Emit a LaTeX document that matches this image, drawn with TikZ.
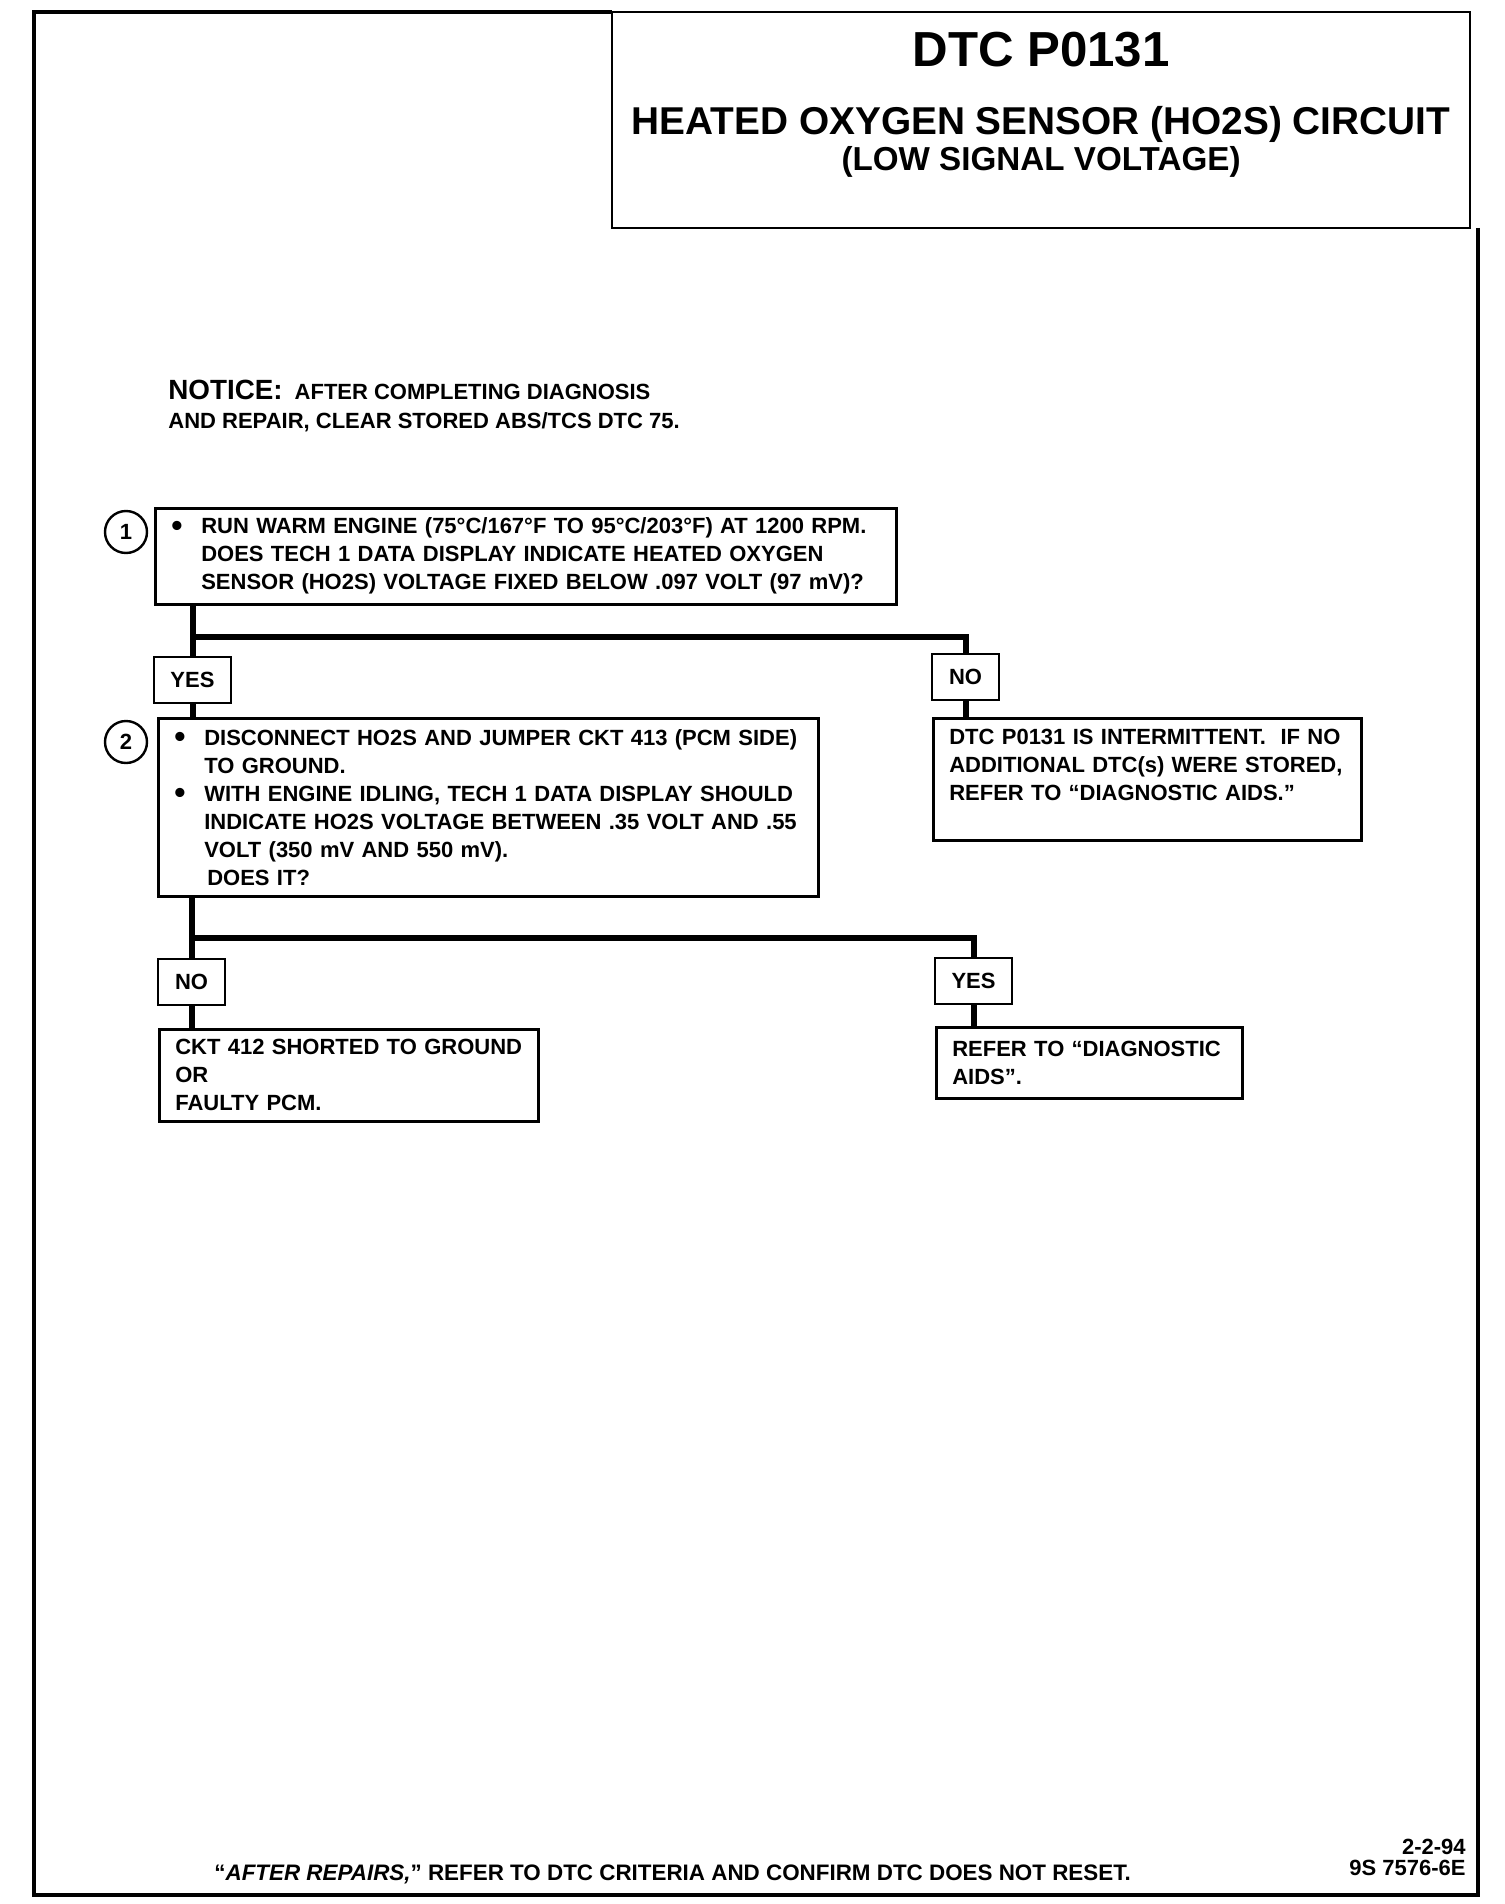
\documentclass[tikz,border=0pt]{standalone}
\usepackage{fontspec}
\setmainfont{Liberation Sans}

\newcommand{\itembul}{\makebox[15pt][l]{\raisebox{-1.4pt}{\fontsize{16}{16}\selectfont\textbullet}}}
\newcommand{\itemgap}{\hspace*{15pt}}

\begin{document}
\begin{tikzpicture}[
	x=0.5pt, y=-0.5pt,
	box style/.style={
		draw,
		line width=1.3pt,
		anchor=north west,
		align=left,
		inner xsep=8pt,
		inner ysep=0pt,
		font=\fontsize{11}{14}\selectfont\bfseries,
		fill=white
	},
	label style/.style={
		draw,
		line width=1.3pt,
		minimum height=23pt,
		inner sep=0pt,
		font=\fontsize{11}{13}\selectfont\bfseries,
		fill=white
	},
	num style/.style={
		draw,
		circle,
		line width=1.2pt,
		minimum size=21pt,
		inner sep=0pt,
		font=\fontsize{11}{13}\selectfont\bfseries
	},
	text style/.style={
		anchor=base west,
		inner sep=0pt,
		font=\fontsize{11}{14}\selectfont\bfseries
	},
	flow line/.style={line width=3pt}
	]
	
	\useasboundingbox (0,0) rectangle (1504,1904);
	
	% page frame and title block
	\draw[line width=2pt] (1478,228) -- (1478,1895) -- (34,1895) -- (34,12) -- (612,12);
	\draw[line width=1.4pt] (612,12) rectangle (1470,228);
	
	\node[font=\fontsize{24.6}{28}\selectfont\bfseries, anchor=base, inner sep=0pt] (code) at (1041,67) 
	{DTC P0131};
	\node[font=\fontsize{19.4}{22}\selectfont\bfseries, anchor=base, inner sep=0pt] (title) at (1041,135) 
	{HEATED OXYGEN SENSOR (HO2S) CIRCUIT};
	\node[font=\fontsize{16.6}{19}\selectfont\bfseries, anchor=base, inner sep=0pt] (subtitle) at (1041,171) 
	{(LOW SIGNAL VOLTAGE)};
	
	\node[text style] (notice1) at (168,400) 
	{{\fontsize{13.9}{16}\selectfont NOTICE:}\hspace{6pt}AFTER COMPLETING DIAGNOSIS};
	\node[text style] (notice2) at (168,428) 
	{AND REPAIR, CLEAR STORED ABS/TCS DTC 75.};
	
	% step 1
	\node[num style] (num1) at (126,532) {1};
	\node[box style, text width=354.5pt, minimum height=48pt] (q1) at (154,507) 
	{\itembul RUN WARM ENGINE (75°C/167°F TO 95°C/203°F) AT 1200 RPM.\\
	 \itemgap DOES TECH 1 DATA DISPLAY INDICATE HEATED OXYGEN\\
	 \itemgap SENSOR (HO2S) VOLTAGE FIXED BELOW .097 VOLT (97 mV)?};
	
	\node[label style, minimum width=38.5pt] (yes1) at (192.5,680) {YES};
	\node[label style, minimum width=33.5pt] (no1) at (965.5,677) {NO};
	
	% step 2
	\node[num style] (num2) at (126,742) {2};
	\node[box style, text width=314pt, minimum height=89pt] (q2) at (157,717) 
	{\itembul DISCONNECT HO2S AND JUMPER CKT 413 (PCM SIDE)\\
	 \itemgap TO GROUND.\\
	 \itembul WITH ENGINE IDLING, TECH 1 DATA DISPLAY SHOULD\\
	 \itemgap INDICATE HO2S VOLTAGE BETWEEN .35 VOLT AND .55\\
	 \itemgap VOLT (350 mV AND 550 mV).\\
	 \itemgap\hspace*{1.5pt}DOES IT?};
	
	\node[box style, text width=198pt, minimum height=61pt] (r1) at (932,717) 
	{DTC P0131 IS INTERMITTENT.\ \ IF NO\\
	 ADDITIONAL DTC(s) WERE STORED,\\
	 REFER TO “DIAGNOSTIC AIDS.”\\
	 \mbox{}};
	
	\node[label style, minimum width=33.5pt] (no2) at (191.5,982) {NO};
	\node[label style, minimum width=38.5pt] (yes2) at (973.5,981) {YES};
	
	\node[box style, text width=173.5pt, minimum height=46pt] (c1) at (158,1028) 
	{CKT 412 SHORTED TO GROUND\\
	 OR\\
	 FAULTY PCM.};
	\node[box style, text width=137pt, minimum height=35.5pt] (c2) at (935,1026) 
	{REFER TO “DIAGNOSTIC\\
	 AIDS”.};
	
	% connectors
	\coordinate (fork1) at (191,637);
	\coordinate (fork2) at (193,938);
	\draw[flow line] (q1.south -| yes1.north) -- (yes1.north);
	\draw[flow line] (yes1.north |- fork1) -| (no1.north);
	\draw[flow line] (yes1.south) -- (yes1.south |- q2.north);
	\draw[flow line] (no1.south) -- (no1.south |- r1.north);
	
	\draw[flow line] (q2.south -| no2.north) -- (no2.north);
	\draw[flow line] (no2.north |- fork2) -| (yes2.north);
	\draw[flow line] (no2.south) -- (no2.south |- c1.north);
	\draw[flow line] (yes2.south) -- (yes2.south |- c2.north);
	
	% footer
	\node[text style, font=\fontsize{11.2}{14}\selectfont\bfseries] (footer) at (214,1880) 
	{“\textit{AFTER REPAIRS,}” REFER TO DTC CRITERIA AND CONFIRM DTC DOES NOT RESET.};
	\node[text style, anchor=base east] (date) at (1466,1854) {2-2-94};
	\node[text style, anchor=base east] (docnum) at (1466,1875) {9S 7576-6E};
	
\end{tikzpicture}
\end{document}
